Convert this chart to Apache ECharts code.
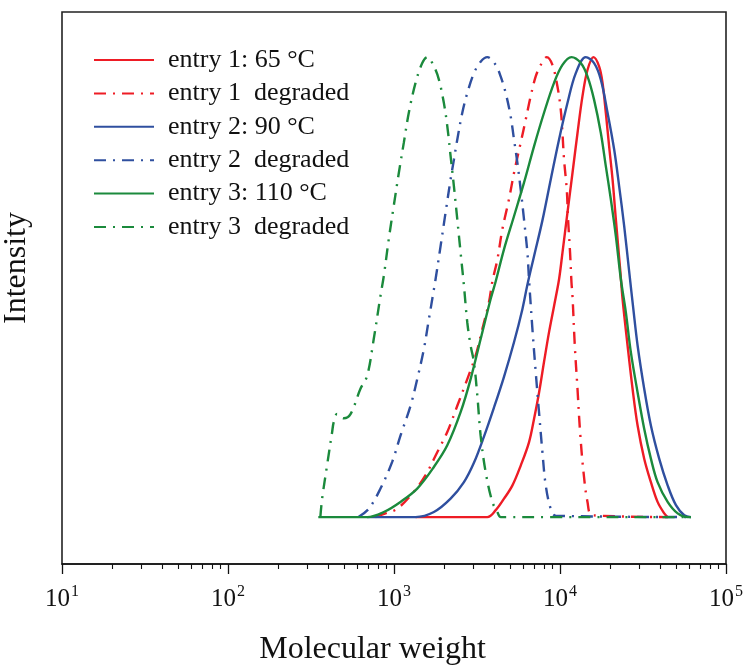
<!DOCTYPE html>
<html>
<head>
<meta charset="utf-8">
<script src="https://cdn.jsdelivr.net/npm/echarts@6/dist/echarts.min.js"></script>
<style>
html,body{margin:0;padding:0;background:#fff;}
#chart{width:750px;height:671px;}
</style>
</head>
<body>
<div id="chart"></div>
<script>
// ---- Data (molecular weight, normalized intensity) ----
const seriesNames = ['entry 1: 65 °C', 'entry 1  degraded', 'entry 2: 90 °C', 'entry 2  degraded', 'entry 3: 110 °C', 'entry 3  degraded'];

const entry1Mw  = [1350, 3650, 4100, 4600, 5170, 5800, 6510, 6980, 7480, 8010, 8590, 9210, 9870, 10350, 11090, 11890, 12750, 13660, 14640, 15910, 17200, 18040, 18880, 19770, 20730, 21700, 23030, 23820, 25530, 27360, 29340, 32150, 35280, 38710, 42460, 44500];
const entry1Int = [0, 0, 0.015, 0.040, 0.069, 0.112, 0.163, 0.214, 0.271, 0.337, 0.402, 0.459, 0.517, 0.575, 0.662, 0.748, 0.835, 0.915, 0.972, 1.0, 0.980, 0.944, 0.879, 0.806, 0.734, 0.647, 0.539, 0.474, 0.373, 0.279, 0.199, 0.127, 0.076, 0.033, 0.008, 0];

const entry1DegMw  = [773, 889, 1045, 1317, 1549, 1822, 2094, 2406, 2764, 3103, 3405, 3732, 3912, 4195, 4497, 4928, 5283, 5798, 6215, 6661, 7141, 7655, 8320, 9004, 9652, 10105, 10347, 10578, 10983, 11185, 11499, 11726, 11890, 12277, 12745, 13213, 13853, 14642, 15697, 44670];
const entry1DegInt = [0, 0.008, 0.018, 0.055, 0.091, 0.141, 0.185, 0.242, 0.300, 0.351, 0.409, 0.467, 0.512, 0.560, 0.626, 0.691, 0.748, 0.814, 0.864, 0.915, 0.958, 0.983, 1.0, 0.983, 0.936, 0.886, 0.835, 0.777, 0.712, 0.647, 0.575, 0.510, 0.481, 0.373, 0.279, 0.185, 0.098, 0.033, 0.004, 0];

const entry2Mw  = [689, 1348, 1739, 2192, 2638, 3030, 3483, 4001, 4598, 5283, 5935, 6362, 6975, 7837, 8795, 9870, 11090, 12450, 14300, 16050, 17620, 19340, 21200, 22720, 24350, 26100, 27660, 29340, 32150, 35280, 39580, 44500, 49930, 56030, 61500];
const entry2Int = [0, 0, 0.011, 0.040, 0.076, 0.118, 0.175, 0.238, 0.305, 0.380, 0.452, 0.505, 0.567, 0.645, 0.734, 0.821, 0.900, 0.965, 1.0, 0.987, 0.951, 0.879, 0.799, 0.719, 0.633, 0.534, 0.452, 0.373, 0.279, 0.199, 0.127, 0.069, 0.026, 0.004, 0];

const entry2DegMw  = [611, 705, 829, 975, 1094, 1258, 1380, 1513, 1622, 1739, 1780, 1908, 2045, 2192, 2296, 2406, 2579, 2764, 3030, 3326, 3650, 4097, 4390, 4707, 5045, 5283, 5538, 5798, 6070, 6362, 6506, 6820, 7141, 7475, 7837, 8204, 8795, 9427, 61500];
const entry2DegInt = [0, 0.018, 0.062, 0.120, 0.177, 0.242, 0.300, 0.365, 0.430, 0.495, 0.517, 0.589, 0.662, 0.734, 0.777, 0.821, 0.879, 0.922, 0.965, 0.990, 1.0, 0.983, 0.958, 0.922, 0.871, 0.821, 0.770, 0.712, 0.647, 0.575, 0.517, 0.409, 0.315, 0.228, 0.141, 0.069, 0.018, 0.003, 0];

const entry3Mw  = [350, 689, 868, 1094, 1380, 1739, 2094, 2519, 2894, 3326, 3821, 4097, 4598, 5283, 6070, 6975, 8013, 9207, 10347, 11726, 13343, 14642, 16050, 17620, 18880, 20240, 21700, 23260, 24930, 26730, 29340, 32150, 35280, 38710, 44500, 51130, 58730, 61500];
const entry3Int = [0, 0, 0.011, 0.033, 0.062, 0.109, 0.156, 0.228, 0.300, 0.387, 0.474, 0.512, 0.582, 0.654, 0.727, 0.806, 0.879, 0.944, 0.983, 1.0, 0.987, 0.958, 0.907, 0.835, 0.763, 0.691, 0.611, 0.517, 0.445, 0.358, 0.271, 0.192, 0.127, 0.076, 0.033, 0.008, 0, 0];

const entry3DegMw  = [360, 369, 395, 424, 433, 454, 498, 547, 628, 689, 755, 829, 868, 930, 996, 1069, 1146, 1228, 1348, 1480, 1586, 1739, 1864, 1998, 2094, 2192, 2296, 2406, 2519, 2638, 2764, 2894, 3030, 3177, 3326, 3565, 3912, 4195, 4400, 61500];
const entry3DegInt = [0, 0.040, 0.112, 0.185, 0.206, 0.224, 0.215, 0.224, 0.279, 0.307, 0.387, 0.481, 0.524, 0.604, 0.676, 0.748, 0.814, 0.879, 0.944, 0.987, 1.0, 0.980, 0.951, 0.900, 0.850, 0.785, 0.719, 0.647, 0.575, 0.503, 0.423, 0.373, 0.337, 0.264, 0.177, 0.098, 0.033, 0.011, 0, 0];

const majorTicks = [10, 100, 1000, 10000, 100000];
const minorTicks = [20, 30, 40, 50, 60, 70, 80, 90, 200, 300, 400, 500, 600, 700, 800, 900, 2000, 3000, 4000, 5000, 6000, 7000, 8000, 9000, 20000, 30000, 40000, 50000, 60000, 70000, 80000, 90000];

// ---- Styles ----
const RED = '#ee1c25', BLUE = '#2f4f9f', GREEN = '#1b8a3c';
const SERIF = "'Liberation Serif', 'Times New Roman', serif";
const DASHDOT = [12, 7, 2, 7];

function zip(xs, ys) { return xs.map((x, i) => [x, ys[i]]); }

const defs = [
  {x: entry1Mw, y: entry1Int, color: RED, dash: 'solid'},
  {x: entry1DegMw, y: entry1DegInt, color: RED, dash: DASHDOT},
  {x: entry2Mw, y: entry2Int, color: BLUE, dash: 'solid'},
  {x: entry2DegMw, y: entry2DegInt, color: BLUE, dash: DASHDOT},
  {x: entry3Mw, y: entry3Int, color: GREEN, dash: 'solid'},
  {x: entry3DegMw, y: entry3DegInt, color: GREEN, dash: DASHDOT}
];

const series = defs.map((d, i) => ({
  name: seriesNames[i],
  type: 'line',
  xAxisIndex: 0,
  data: zip(d.x, d.y),
  symbol: 'none',
  smooth: 0.35,
  color: d.color,
  lineStyle: {color: d.color, width: 2.4, type: d.dash},
  z: 3,
  animation: false
}));

const chart = echarts.init(document.getElementById('chart'), null, {renderer: 'canvas'});
chart.setOption({
  backgroundColor: '#fff',
  animation: false,
  grid: {left: 62, right: 24, top: 12, bottom: 105.5, show: true, borderColor: '#222', borderWidth: 1.6, backgroundColor: 'transparent'},
  legend: {
    orient: 'vertical', left: 88, top: 42, itemWidth: 60, itemHeight: 25, itemGap: 7.4,
    selectedMode: false,
    itemStyle: {opacity: 0},
    textStyle: {fontFamily: SERIF, fontSize: 26, color: '#111', padding: [0, 0, 0, 9], lineHeight: 25},
    data: seriesNames
  },
  xAxis: [{
    type: 'log', logBase: 10, min: 10, max: 100000,
    position: 'bottom',
    axisLine: {show: true, onZero: false, lineStyle: {color: '#111', width: 1.5}},
    axisTick: {show: true, inside: false, length: 10, lineStyle: {color: '#111', width: 1.3}, customValues: majorTicks},
    axisLabel: {
      show: true, margin: 20, customValues: majorTicks,
      formatter: function (v) { return '{b|10}{s|' + Math.round(Math.log10(v)) + '}'; },
      rich: {
        b: {fontFamily: SERIF, fontSize: 25, color: '#111', lineHeight: 30},
        s: {fontFamily: SERIF, fontSize: 16, color: '#111', verticalAlign: 'top', lineHeight: 12, padding: [0, 0, 0, 1]}
      }
    },
    splitLine: {show: false},
    name: 'Molecular weight', nameLocation: 'middle', nameGap: 70,
    nameTextStyle: {fontFamily: SERIF, fontSize: 32, color: '#111', padding: [0, 43, 0, 0]}
  }, {
    type: 'log', logBase: 10, min: 10, max: 100000,
    position: 'bottom',
    axisLine: {show: false, onZero: false},
    axisTick: {show: true, inside: false, length: 5, lineStyle: {color: '#111', width: 1.1}, customValues: minorTicks},
    axisLabel: {show: false},
    splitLine: {show: false}
  }],
  yAxis: {
    type: 'value', min: -0.102, max: 1.098,
    axisLine: {show: false}, axisTick: {show: false}, axisLabel: {show: false}, splitLine: {show: false}
  },
  graphic: [{
    type: 'text', x: 17, y: 268, rotation: Math.PI / 2,
    style: {text: 'Intensity', font: "32px 'Liberation Serif', serif", fill: '#111', align: 'center', verticalAlign: 'middle'}
  }],
  series: series
});
</script>
</body>
</html>
